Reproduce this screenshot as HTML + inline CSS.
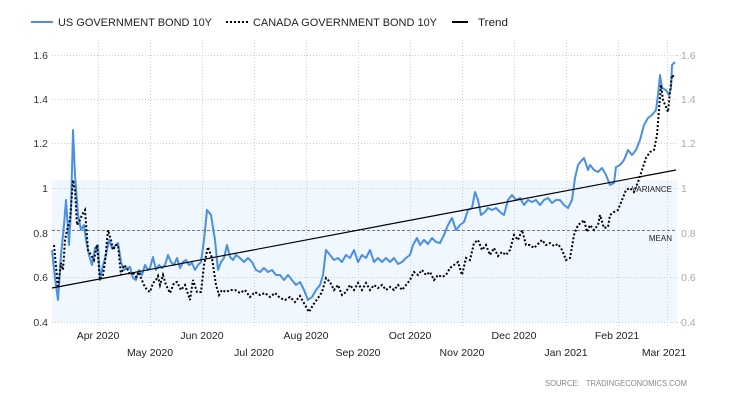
<!DOCTYPE html>
<html><head><meta charset="utf-8"><style>
html,body{margin:0;padding:0;background:#fff;}
svg{display:block;font-family:"Liberation Sans",sans-serif;}
</style></head><body>
<svg width="730" height="400" viewBox="0 0 730 400">
<rect x="52" y="180" width="625" height="142" fill="#f0f7fe"/>
<g stroke="#cccccc" stroke-width="1" stroke-dasharray="1,2">
<line x1="52" y1="55.5" x2="677" y2="55.5"/>
<line x1="52" y1="99.5" x2="677" y2="99.5"/>
<line x1="52" y1="143.5" x2="677" y2="143.5"/>
<line x1="52" y1="188.5" x2="677" y2="188.5"/>
<line x1="52" y1="277.5" x2="677" y2="277.5"/>
<line x1="98.5" y1="40" x2="98.5" y2="326"/>
<line x1="150.5" y1="40" x2="150.5" y2="326"/>
<line x1="202.5" y1="40" x2="202.5" y2="326"/>
<line x1="254.5" y1="40" x2="254.5" y2="326"/>
<line x1="306.5" y1="40" x2="306.5" y2="326"/>
<line x1="358.5" y1="40" x2="358.5" y2="326"/>
<line x1="410.5" y1="40" x2="410.5" y2="326"/>
<line x1="462.5" y1="40" x2="462.5" y2="326"/>
<line x1="514.5" y1="40" x2="514.5" y2="326"/>
<line x1="566.5" y1="40" x2="566.5" y2="326"/>
<line x1="618.5" y1="40" x2="618.5" y2="326"/>
<line x1="667.5" y1="40" x2="667.5" y2="326"/>
<line x1="52" y1="322.5" x2="677" y2="322.5"/>
<line x1="677" y1="55.5" x2="682" y2="55.5"/>
<line x1="677" y1="322.5" x2="682" y2="322.5"/>
</g>
<line x1="52" y1="230.5" x2="677" y2="230.5" stroke="#777" stroke-dasharray="3,2"/>
<g font-size="10.5" fill="#333" text-anchor="end">
<text x="48" y="59">1.6</text><text x="48" y="103">1.4</text><text x="48" y="147">1.2</text>
<text x="48" y="192">1</text><text x="48" y="237">0.8</text><text x="48" y="281">0.6</text><text x="48" y="326">0.4</text>
</g>
<g font-size="10.5" fill="#aaa">
<text x="681" y="59">1.6</text><text x="681" y="103">1.4</text><text x="681" y="147">1.2</text>
<text x="681" y="192">1</text><text x="681" y="237">0.8</text><text x="681" y="281">0.6</text><text x="681" y="326">0.4</text>
</g>
<g font-size="8" fill="#222" text-anchor="end">
<text x="672" y="192">VARIANCE</text><text x="672" y="241">MEAN</text>
</g>
<g font-size="10.5" fill="#222" text-anchor="middle">
<text x="98" y="339">Apr 2020</text><text x="202" y="339">Jun 2020</text><text x="306" y="339">Aug 2020</text>
<text x="410" y="339">Oct 2020</text><text x="514" y="339">Dec 2020</text><text x="617" y="339">Feb 2021</text>
<text x="150" y="356">May 2020</text><text x="254" y="356">Jul 2020</text><text x="358" y="356">Sep 2020</text>
<text x="462" y="356">Nov 2020</text><text x="566" y="356">Jan 2021</text><text x="664" y="356">Mar 2021</text>
</g>
<text x="545" y="386" font-size="8" fill="#888" textLength="142" lengthAdjust="spacingAndGlyphs">SOURCE:&#160;&#160; TRADINGECONOMICS.COM</text>
<polyline fill="none" stroke="#4a90e2" stroke-width="2" stroke-linejoin="round" points="52,250 55,278 58,300 61,255 64,225 66,200 69,245 71,210 73,130 75,175 78,215 81,230 84,225 86,240 89,255 92,265 95,248 98,245 100,280 103,265 106,255 109,240 112,248 115,246 118,243 121,262 124,270 127,268 130,267 133,278 136,280 139,270 142,275 145,265 148,270 150,268 153,257 156,270 159,265 162,268 165,265 168,255 171,262 174,265 177,258 180,268 183,262 186,260 189,265 192,263 195,270 198,265 201,262 204,240 207,210 211,215 215,240 218,270 221,262 224,258 227,245 230,257 233,260 236,255 240,258 244,262 248,258 252,262 256,270 260,272 264,268 268,272 272,270 276,275 280,275 284,280 288,275 292,280 296,285 300,282 304,290 308,300 312,297 316,290 320,285 323,275 326,250 330,255 334,260 338,258 342,262 346,255 350,258 354,250 358,262 362,255 366,258 370,250 374,262 378,258 382,262 386,258 390,262 394,258 398,264 402,262 406,258 410,255 413,245 417,238 420,245 424,240 428,244 432,238 436,242 440,243 444,235 448,225 452,218 456,230 460,225 464,222 468,210 472,208 475,192 478,200 481,215 485,212 488,208 492,210 496,208 500,212 504,215 508,200 512,195 516,200 520,198 524,205 528,200 532,202 536,200 540,205 544,200 548,198 552,203 556,200 560,200 564,205 568,208 572,200 575,178 578,165 582,160 584,158 588,170 590,165 594,170 598,172 602,168 606,175 610,185 614,183 616,167 620,165 624,160 628,150 632,155 636,150 640,140 644,125 648,118 652,115 656,110 658,95 660,75 662,88 666,90 669,95 671,88 672,65 675,62"/>
<polyline fill="none" stroke="#000" stroke-width="2" stroke-dasharray="2,2" points="54,245 58,288 61,263 63,270 65,240 67,230 70,220 73,180 75,190 77,225 80,220 82,215 85,210 88,250 91,255 94,260 97,245 100,280 103,275 105,262 108,230 111,240 113,250 116,245 118,245 121,275 124,265 127,268 130,275 133,272 136,277 139,272 141,278 144,285 147,290 150,292 153,283 156,280 158,276 160,285 163,275 166,285 170,293 174,283 177,282 181,290 185,285 190,300 193,280 197,292 201,292 204,265 208,247 212,258 216,285 219,295 222,290 226,292 230,290 235,290 240,293 245,290 250,297 255,292 260,295 265,293 270,297 275,293 280,298 285,300 290,297 295,302 300,296 305,305 309,312 313,305 318,298 322,292 326,278 330,282 334,290 338,285 342,295 346,292 350,285 354,290 358,283 362,290 366,283 370,290 374,285 378,288 382,285 386,290 390,287 394,290 398,285 402,290 406,285 410,280 414,272 418,275 422,270 426,275 430,272 434,280 438,275 442,277 446,275 450,268 454,265 458,262 462,275 466,258 470,260 474,243 478,240 482,250 486,245 490,255 494,248 498,256 502,252 506,255 510,250 514,235 518,240 522,230 526,245 530,245 534,248 538,244 542,240 546,245 550,243 554,246 558,244 562,250 566,260 570,258 574,235 578,225 582,222 584,220 587,232 590,225 594,230 598,225 600,215 604,228 608,227 610,215 614,212 618,210 622,200 626,190 630,188 634,192 638,182 642,170 646,158 650,152 654,150 657,135 659,110 661,85 663,100 666,107 668,112 670,92 672,75 675,78"/>
<line x1="52" y1="288" x2="676" y2="170" stroke="#000" stroke-width="1.2"/>
<line x1="31" y1="22" x2="53" y2="22" stroke="#4a90e2" stroke-width="2"/>
<text x="58" y="26" font-size="11" fill="#222" textLength="154" lengthAdjust="spacingAndGlyphs">US GOVERNMENT BOND 10Y</text>
<line x1="226" y1="22" x2="248" y2="22" stroke="#000" stroke-width="2" stroke-dasharray="2,2"/>
<text x="253" y="26" font-size="11" fill="#222" textLength="184" lengthAdjust="spacingAndGlyphs">CANADA GOVERNMENT BOND 10Y</text>
<line x1="452" y1="22" x2="468" y2="22" stroke="#000" stroke-width="2"/>
<text x="478" y="26" font-size="11" fill="#222" textLength="30" lengthAdjust="spacingAndGlyphs">Trend</text>
</svg>
</body></html>
